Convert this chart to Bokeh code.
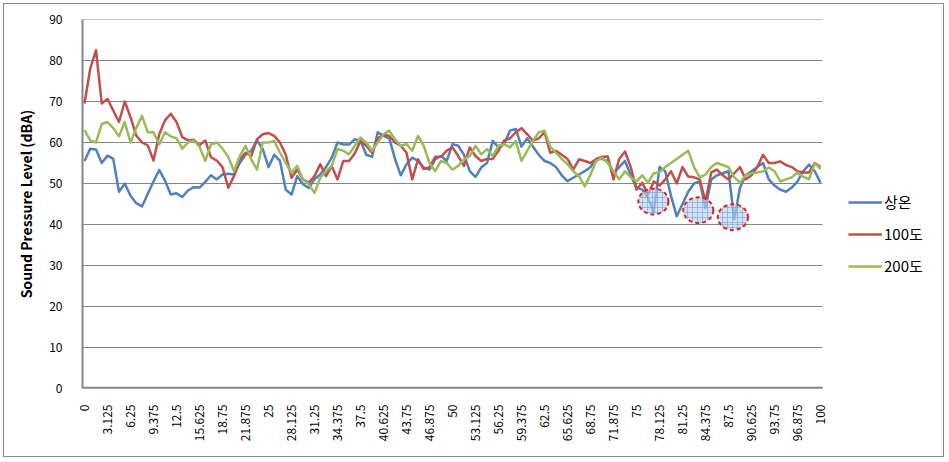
import math
from bokeh.plotting import figure
from bokeh.models import Range1d, FixedTicker, Legend, LegendItem
from bokeh.embed import file_html
from bokeh.resources import INLINE

# ---------------- data ----------------
N_POINTS = 129
X = [i * 100 / 128 for i in range(N_POINTS)]

TICK_LABELS = ["0", "3.125", "6.25", "9.375", "12.5", "15.625", "18.75", "21.875",
               "25", "28.125", "31.25", "34.375", "37.5", "40.625", "43.75", "46.875",
               "50", "53.125", "56.25", "59.375", "62.5", "65.625", "68.75", "71.875",
               "75", "78.125", "81.25", "84.375", "87.5", "90.625", "93.75", "96.875", "100"]
Y_TICKS = [0, 10, 20, 30, 40, 50, 60, 70, 80, 90]

SERIES_NAMES = ["상온", "100도", "200도"]

ROOM = [55.5, 58.5, 58.3, 55.0, 56.8, 56.0, 48.0, 50.0, 47.0, 45.2,
        44.4, 47.5, 50.5, 53.3, 50.7, 47.3, 47.6, 46.7, 48.3, 49.1,
        49.0, 50.4, 52.0, 51.0, 52.2, 52.4, 52.2, 55.0, 57.0, 58.0,
        60.5, 58.4, 54.0, 57.0, 55.5, 48.5, 47.3, 51.8, 49.8, 48.9,
        51.0, 52.2, 54.0, 56.3, 60.0, 59.5, 59.5, 60.8, 60.4, 57.0,
        56.5, 62.5, 61.6, 61.0, 56.0, 52.0, 54.7, 56.3, 55.5, 53.9,
        53.4, 55.9, 56.7, 55.5, 59.6, 59.2, 57.0, 53.0, 51.6, 53.9,
        55.0, 60.4, 58.8, 59.6, 62.9, 63.3, 59.0, 61.0, 59.0, 57.0,
        55.5, 55.0, 54.0, 52.0, 50.6, 51.4, 52.2, 53.0, 54.0, 56.0,
        56.0, 55.5, 52.5, 54.0, 55.5, 52.0, 49.0, 48.5, 46.5, 43.0,
        54.0, 53.0, 47.0, 42.0, 45.0, 48.0, 50.0, 50.5, 44.0, 51.0,
        52.0, 52.5, 53.0, 41.2, 49.0, 52.0, 53.0, 54.0, 55.0, 51.0,
        49.5, 48.5, 48.0, 49.0, 50.5, 53.0, 54.6, 53.0, 50.2]

DEG100 = [69.5, 78.0, 82.5, 69.5, 70.6, 67.8, 65.0, 70.0, 66.2, 61.7,
          60.0, 59.3, 55.6, 62.0, 65.4, 67.0, 65.0, 61.3, 60.5, 60.7,
          59.3, 60.5, 56.4, 55.6, 54.0, 49.0, 51.8, 55.9, 57.5, 56.7,
          60.8, 62.0, 62.3, 61.6, 60.0, 57.0, 51.4, 53.4, 51.0, 50.2,
          51.8, 54.7, 51.8, 54.3, 51.0, 55.5, 55.5, 57.3, 60.4, 59.2,
          57.5, 61.0, 62.0, 61.6, 60.0, 59.2, 57.5, 51.0, 55.9, 53.5,
          54.0, 56.5, 56.5, 58.0, 58.8, 56.7, 54.3, 58.8, 56.7, 55.5,
          56.0, 56.0, 58.0, 60.5, 61.0, 62.5, 63.5, 62.0, 60.4, 61.0,
          62.5, 57.5, 58.0, 57.0, 56.0, 53.4, 55.9, 55.5, 55.0, 56.0,
          56.5, 56.6, 51.0, 56.0, 57.8, 54.0, 48.5, 50.2, 47.3, 50.5,
          49.5, 51.0, 53.0, 50.0, 54.0, 51.7, 51.5, 51.0, 45.6, 52.7,
          53.4, 52.0, 51.0, 52.5, 54.0, 51.0, 52.0, 54.0, 57.0, 55.0,
          55.0, 55.4, 54.5, 54.0, 53.0, 52.7, 52.7, 55.0, 54.0]

DEG200 = [63.0, 60.5, 60.0, 64.5, 65.0, 63.5, 61.5, 65.0, 60.0, 63.5,
          66.5, 62.5, 62.5, 59.5, 62.5, 61.5, 61.0, 58.5, 60.0, 60.5,
          59.0, 55.5, 59.5, 60.0, 58.5, 56.5, 53.0, 56.7, 59.2, 55.9,
          53.4, 60.0, 60.0, 60.4, 57.5, 55.0, 52.6, 54.3, 51.0, 49.8,
          47.7, 51.4, 53.0, 54.3, 58.4, 58.0, 57.1, 59.2, 61.2, 60.0,
          58.0, 60.0, 62.0, 62.9, 60.8, 59.2, 59.6, 58.0, 61.6, 59.2,
          55.0, 53.0, 55.5, 55.0, 53.4, 54.3, 55.9, 56.7, 59.2, 57.1,
          58.4, 56.7, 59.2, 59.6, 58.8, 60.4, 55.5, 58.0, 60.4, 62.5,
          62.9, 59.0, 57.5, 56.0, 54.7, 53.0, 51.8, 49.3, 52.2, 55.5,
          56.3, 55.0, 53.0, 51.0, 53.0, 51.5, 50.5, 52.0, 50.2, 52.5,
          52.7, 54.0, 55.0, 56.0, 57.0, 58.0, 54.0, 51.5, 52.2, 54.0,
          55.0, 54.5, 54.0, 51.5, 50.2, 52.0, 52.5, 52.7, 53.0, 53.9,
          53.0, 50.5, 51.0, 51.5, 52.7, 51.7, 51.0, 55.0, 53.5]

# highlighted dips (dashed ellipses)
HIGHLIGHT_X = [77.3, 83.4, 88.1]
HIGHLIGHT_Y = [45.6, 43.5, 41.8]

assert len(ROOM) == N_POINTS and len(DEG100) == N_POINTS and len(DEG200) == N_POINTS

COLORS = ["#4F81BD", "#C0504D", "#9BBB59"]
GRID_COLOR = "#868686"
FONT = "Noto Sans CJK KR"

# plot area spans a little beyond the first/last category
X_PAD = 0.272
X_LO, X_HI = X[0] - X_PAD, X[-1] + X_PAD

# ---------------- figure ----------------
# the frame extends to the right so the legend (drawn inside it) is not clipped
p = figure(width=941, height=454, output_backend="svg", toolbar_location=None,
           x_range=Range1d(X_LO, 116.17), y_range=Range1d(0, 90),
           min_border_left=78, min_border_right=6, min_border_top=15,
           min_border_bottom=70)
p.styles = {"margin": "3px", "border": "1px solid #8c8c8c"}
p.outline_line_color = None
p.background_fill_color = "white"
p.border_fill_color = "white"

p.xgrid.visible = False
p.ygrid.visible = False

# horizontal gridlines limited to the category span
p.segment(x0=[X_LO] * len(Y_TICKS), x1=[X_HI] * len(Y_TICKS), y0=Y_TICKS, y1=Y_TICKS,
          line_color=GRID_COLOR, line_width=1)
# category axis line
p.segment(x0=[X_LO], x1=[X_HI], y0=[Y_TICKS[0]], y1=[Y_TICKS[0]],
          line_color=GRID_COLOR, line_width=3.5)

p.yaxis.ticker = FixedTicker(ticks=Y_TICKS)
p.xaxis.ticker = FixedTicker(ticks=X[::4])
p.xaxis.major_label_overrides = {X[4 * k]: TICK_LABELS[k] for k in range(len(TICK_LABELS))}
p.xaxis.major_label_orientation = math.pi / 2

for ax in (p.xaxis[0], p.yaxis[0]):
    ax.major_tick_line_color = None
    ax.minor_tick_line_color = None
    ax.major_label_text_font = FONT
    ax.major_label_text_font_size = "12px"
    ax.major_label_text_color = "#000000"
p.xaxis.axis_line_color = None
p.yaxis.axis_line_color = GRID_COLOR
p.yaxis.axis_line_width = 2

p.xaxis.major_label_standoff = 10
p.yaxis.major_label_standoff = 14
p.yaxis.axis_label = "Sound Pressure Level (dBA)"
p.yaxis.axis_label_text_font = FONT
p.yaxis.axis_label_text_font_size = "14px"
p.yaxis.axis_label_text_font_style = "bold"
p.yaxis.axis_label_text_color = "#000000"
p.yaxis.axis_label_standoff = 10

renderers = []
for vals, col in zip([ROOM, DEG100, DEG200], COLORS):
    r = p.line(X, vals, line_color=col, line_width=2.5, line_join="round")
    renderers.append(r)

p.ellipse(x=HIGHLIGHT_X, y=HIGHLIGHT_Y, width=4.1, height=6.3,
          fill_color="#bcd3f0", fill_alpha=0.65,
          hatch_pattern="cross", hatch_color="#6f9bd3", hatch_alpha=0.7,
          hatch_scale=5, hatch_weight=0.8,
          line_color="#e0201c", line_dash="4 3", line_width=2)

legend = Legend(items=[LegendItem(label=n, renderers=[r]) for n, r in zip(SERIES_NAMES, renderers)],
                location=(766, 112))
legend.background_fill_alpha = 0
legend.border_line_color = None
legend.label_text_font = FONT
legend.label_text_font_size = "15px"
legend.label_text_color = "#000000"
legend.glyph_width = 34
legend.glyph_height = 20
legend.label_height = 20
legend.spacing = 11
legend.padding = 0
legend.margin = 0
legend.label_standoff = 2
p.add_layout(legend)

open("out.html", "w").write(file_html(p, INLINE))
